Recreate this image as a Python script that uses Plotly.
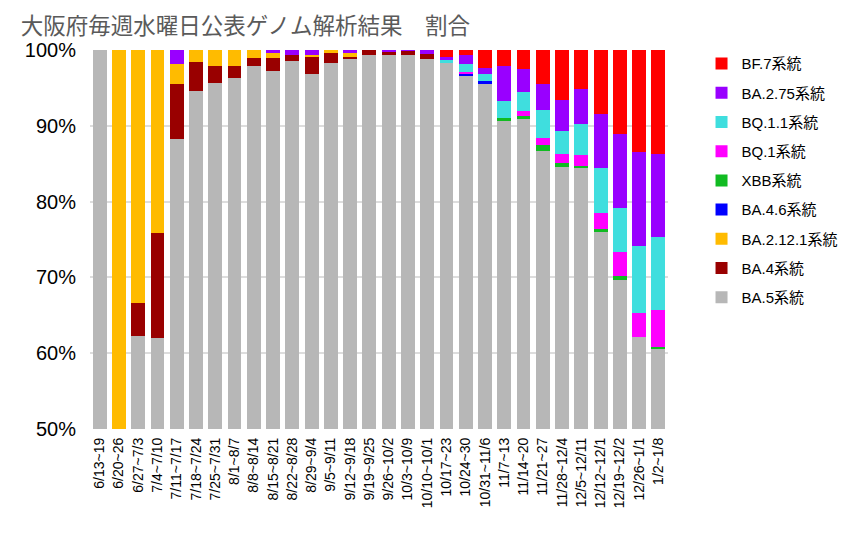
import plotly.graph_objects as go

# Week labels as printed under the bars (some are cut off in the source)
weeks = ["6/13~19", "6/20~26", "6/27~7/3", "7/4~7/10", "7/11~7/17", "7/18~7/24",
         "7/25~7/31", "8/1~8/7", "8/8~8/14", "8/15~8/21", "8/22~8/28", "8/29~9/4",
         "9/5~9/11", "9/12~9/18", "9/19~9/25", "9/26~10/2", "10/3~10/9", "10/10~10/1",
         "10/17~23", "10/24~30", "10/31~11/6", "11/7~13", "11/14~20", "11/21~27",
         "11/28~12/4", "12/5~12/11", "12/12~12/1", "12/19~12/2", "12/26~1/1", "1/2~1/8"]

# share per lineage (%)
ba5 = [100, 0, 62.3, 62.0, 88.2, 94.6, 95.6, 96.3, 97.9, 97.2, 98.5, 96.9, 98.3, 98.9, 99.4,
       99.3, 99.4, 98.8, 98.3, 96.7, 95.5, 90.75, 90.9, 86.7, 84.6, 84.5, 76.0, 69.7, 62.2, 60.6]
ba4 = [0, 0, 4.3, 13.9, 7.3, 3.8, 2.3, 1.6, 1.1, 1.8, 0.9, 2.2, 1.3, 0.2, 0.6,
       0.4, 0.5, 0.7, 0, 0, 0, 0, 0, 0, 0, 0, 0, 0, 0, 0]
ba2121 = [0, 100, 33.4, 24.1, 2.6, 1.6, 2.1, 2.1, 1.0, 0.6, 0, 0.2, 0.4, 0.5, 0,
          0, 0, 0, 0, 0, 0, 0, 0, 0, 0, 0, 0, 0, 0, 0]
ba46 = [0] * 19 + [0.2, 0.35] + [0] * 9
xbb = [0] * 21 + [0.25, 0.4, 0.8, 0.45, 0.2, 0.35, 0.5, 0, 0.2]
bq1 = [0] * 19 + [0.2, 0, 0, 0.7, 0.95, 1.2, 1.5, 2.1, 3.2, 3.1, 4.85]
bq11 = [0] * 18 + [0.4, 1.0, 1.0, 2.3, 2.5, 3.7, 3.1, 4.0, 6.0, 5.8, 8.9, 9.7]
ba275 = [0, 0, 0, 0, 1.9, 0, 0, 0, 0, 0.4, 0.6, 0.7, 0, 0.4, 0,
         0.3, 0.1, 0.5, 0.35, 1.3, 0.75, 4.6, 2.95, 3.35, 4.05, 4.6, 7.1, 9.7, 12.4, 10.9]
bf7 = [0] * 18 + [0.95, 0.6, 2.4, 2.1, 2.55, 4.5, 6.6, 5.2, 8.45, 11.1, 13.4, 13.75]

y_ticks = [50, 60, 70, 80, 90, 100]
y_tick_labels = ["50%", "60%", "70%", "80%", "90%", "100%"]

# stacked bottom to top
series = [
    ("BA.5系統", ba5, "#b7b7b7"),
    ("BA.4系統", ba4, "#990000"),
    ("BA.2.12.1系統", ba2121, "#ffbb00"),
    ("BA.4.6系統", ba46, "#0000ff"),
    ("XBB系統", xbb, "#11bb22"),
    ("BQ.1系統", bq1, "#ff00ff"),
    ("BQ.1.1系統", bq11, "#3fdede"),
    ("BA.2.75系統", ba275, "#9900ff"),
    ("BF.7系統", bf7, "#ff0000"),
]

fig = go.Figure()
for i, (name, vals, color) in enumerate(series):
    # legend lists the top of the stack first
    fig.add_trace(go.Bar(x=weeks, y=vals, name=name, legendgroup=name,
                         legendrank=len(series) - i,
                         marker=dict(color=color, line=dict(width=0))))

# page body has an 8px margin, so the figure is a bit smaller than the window
fig.update_layout(
    barmode="stack",
    bargap=0.28,
    width=846,
    height=536,
    margin=dict(l=82, r=179, t=42, b=115),
    paper_bgcolor="white",
    plot_bgcolor="white",
    font=dict(family="Liberation Sans, Noto Sans CJK JP", color="black"),
    title=dict(text="大阪府毎週水曜日公表ゲノム解析結果　割合", x=0.015, xanchor="left",
               y=0.967, yanchor="middle",
               font=dict(size=22.5, color="#5a5a5a", family="Noto Sans CJK JP")),
    legend=dict(x=1.058, y=1.007, xanchor="left", yanchor="top",
                traceorder="grouped", tracegroupgap=6.7, maxheight=1,
                itemwidth=30, borderwidth=0, bgcolor="rgba(0,0,0,0)",
                font=dict(size=15, family="Liberation Sans, Noto Sans CJK JP")),
    showlegend=True,
)
fig.update_yaxes(range=[50, 100], tickvals=y_ticks, ticktext=y_tick_labels,
                 showgrid=True, gridcolor="#dddddd", gridwidth=1.5, zeroline=False,
                 tickfont=dict(size=20), ticks="", showline=False, automargin=False,
                 ticklabelstandoff=13)
fig.update_xaxes(tickangle=-90, tickfont=dict(size=14), showgrid=False, showline=False,
                 ticks="", automargin=False, ticklabelstandoff=5)

fig.write_html("out.html")
